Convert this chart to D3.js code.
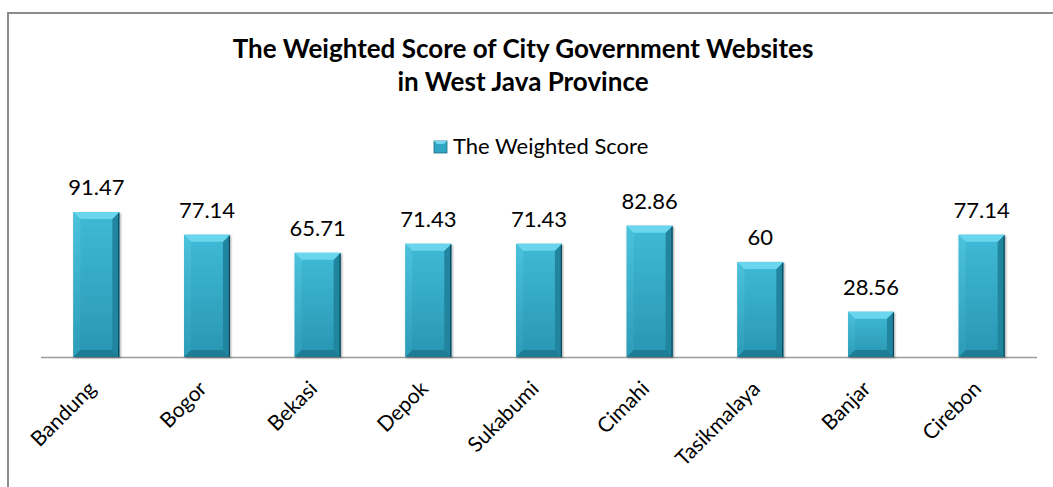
<!DOCTYPE html>
<html>
<head>
<meta charset="utf-8">
<script src="https://cdn.jsdelivr.net/npm/d3@7"></script>
<style>
  html, body { margin: 0; padding: 0; background: #fff; }
  svg { display: block; }
  text { font-family: Lato, "Open Sans", sans-serif; fill: #000; }
</style>
</head>
<body>
<svg id="chart" width="1053" height="487"></svg>
<script>
// City names and their weighted website scores
const cities = ["Bandung", "Bogor", "Bekasi", "Depok", "Sukabumi", "Cimahi", "Tasikmalaya", "Banjar", "Cirebon"];
const scores = [91.47, 77.14, 65.71, 71.43, 71.43, 82.86, 60, 28.56, 77.14];
const seriesName = "The Weighted Score";
const titleLines = ["The Weighted Score of City Government Websites", "in West Java Province"];

const W = 1053, H = 487;
const svg = d3.select("#chart");

// Outer chart frame (right and bottom edges run past the view)
svg.append("rect")
  .attr("x", 8).attr("y", 13)
  .attr("width", W + 20).attr("height", H + 20)
  .attr("fill", "#fff")
  .attr("stroke", "#8c8c8c")
  .attr("stroke-width", 2);

const plot = { left: 41, right: 1037, top: 198.5, bottom: 357 };

const x = d3.scaleBand()
  .domain(cities)
  .range([plot.left, plot.right])
  .paddingInner(0.585)
  .paddingOuter(0.2925);

const y = d3.scaleLinear()
  .domain([0, 100])
  .range([plot.bottom, plot.top]);

// Gradients for the bevelled bar faces
const defs = svg.append("defs");
const bodyGrad = defs.append("linearGradient")
  .attr("id", "bodyGrad").attr("x1", 0).attr("y1", 0).attr("x2", 0).attr("y2", 1);
bodyGrad.append("stop").attr("offset", "0%").attr("stop-color", "#3fbad6");
bodyGrad.append("stop").attr("offset", "100%").attr("stop-color", "#2996b2");

const sideGrad = defs.append("linearGradient")
  .attr("id", "sideGrad").attr("x1", 0).attr("y1", 0).attr("x2", 0).attr("y2", 1);
sideGrad.append("stop").attr("offset", "0%").attr("stop-color", "#4cc2dc");
sideGrad.append("stop").attr("offset", "100%").attr("stop-color", "#2c9cb8");

const shadow = defs.append("filter").attr("id", "barShadow")
  .attr("x", "-20%").attr("y", "-20%").attr("width", "140%").attr("height", "140%");
shadow.append("feDropShadow")
  .attr("dx", 1).attr("dy", 1).attr("stdDeviation", 1.2)
  .attr("flood-color", "#000").attr("flood-opacity", 0.35);

// Title
svg.append("g").selectAll("text")
  .data(titleLines)
  .join("text")
  .attr("x", 523)
  .attr("y", (d, i) => 58 + i * 33)
  .attr("text-anchor", "middle")
  .attr("font-weight", "bold")
  .attr("font-size", 26)
  .text(d => d);

// Legend
const legend = svg.append("g");
legend.append("rect")
  .attr("x", 434).attr("y", 141).attr("width", 13).attr("height", 12)
  .attr("fill", "#2fa6c3").attr("stroke", "#1d6f84").attr("stroke-width", 0.8);
legend.append("path")
  .attr("d", "M434,141 L447,141 L444,144 L437,144 Z")
  .attr("fill", "#6fd8ee");
legend.append("text")
  .attr("x", 453).attr("y", 153.5)
  .attr("font-size", 22)
  .text(seriesName);

// Category axis line
svg.append("line")
  .attr("x1", plot.left).attr("x2", plot.right)
  .attr("y1", plot.bottom + 0.5).attr("y2", plot.bottom + 0.5)
  .attr("stroke", "#9a9a9a").attr("stroke-width", 1.6);

// Bevelled bars
const data = cities.map((c, i) => ({ city: c, value: scores[i] }));
const bars = svg.append("g").selectAll("g.bar")
  .data(data)
  .join("g")
  .attr("class", "bar")
  .attr("filter", "url(#barShadow)");

bars.each(function(d) {
  const g = d3.select(this);
  const x0 = x(d.city), x1 = x0 + x.bandwidth();
  const y0 = y(d.value), y1 = y(0);
  const b = 7;
  const poly = pts => pts.map(p => p.join(",")).join(" ");
  g.append("rect")
    .attr("x", x0).attr("y", y0).attr("width", x1 - x0).attr("height", y1 - y0)
    .attr("fill", "url(#bodyGrad)");
  // left face
  g.append("polygon")
    .attr("points", poly([[x0, y0], [x0 + b, y0 + b], [x0 + b, y1 - b], [x0, y1]]))
    .attr("fill", "url(#sideGrad)");
  // right face
  g.append("polygon")
    .attr("points", poly([[x1, y0], [x1, y1], [x1 - b, y1 - b], [x1 - b, y0 + b]]))
    .attr("fill", "#23859f");
  // bottom face
  g.append("polygon")
    .attr("points", poly([[x0, y1], [x1, y1], [x1 - b, y1 - b], [x0 + b, y1 - b]]))
    .attr("fill", "#1f7d95");
  // top face
  g.append("polygon")
    .attr("points", poly([[x0, y0], [x1, y0], [x1 - b, y0 + b], [x0 + b, y0 + b]]))
    .attr("fill", "#6ad6ee");
  // dark right rim
  g.append("line")
    .attr("x1", x1 - 0.6).attr("x2", x1 - 0.6).attr("y1", y0 + 1).attr("y2", y1)
    .attr("stroke", "#0f4a5a").attr("stroke-width", 1.2);
});

// Value labels
svg.append("g").selectAll("text")
  .data(data)
  .join("text")
  .attr("x", d => x(d.city) + x.bandwidth() / 2)
  .attr("y", d => y(d.value) - 17)
  .attr("text-anchor", "middle")
  .attr("font-size", 22)
  .text(d => d.value);

// Rotated category labels
svg.append("g").selectAll("text")
  .data(cities)
  .join("text")
  .attr("text-anchor", "end")
  .attr("font-size", 21)
  .attr("transform", d => `translate(${x(d) + x.bandwidth() / 2 + 1},${plot.bottom + 33}) rotate(-45)`)
  .text(d => d);
</script>
</body>
</html>
